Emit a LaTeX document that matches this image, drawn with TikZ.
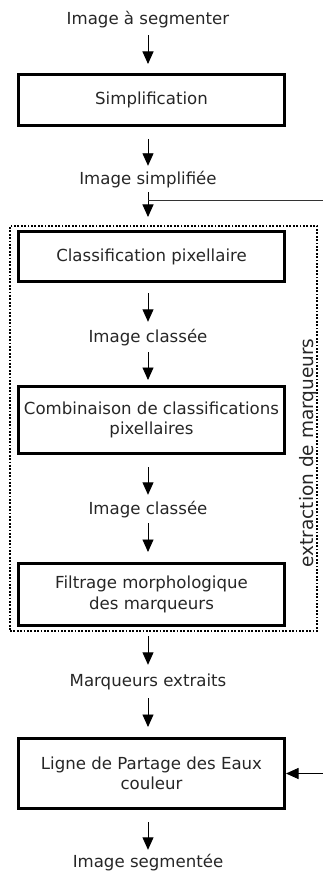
\documentclass[tikz,border=0pt]{standalone}
\usepackage{fontspec}
\setmainfont{DejaVu Sans}
\usetikzlibrary{arrows.meta}
\begin{document}
\begin{tikzpicture}[x=1pt,y=-1pt,
  every node/.style={font=\fontsize{16.6}{20.5}\selectfont, text=black!85},
  lbl/.style={inner sep=0pt, text height=12pt, text depth=3.5pt},
  stepbox/.style={draw, line width=3pt, outer sep=1.5pt, minimum width=266pt, align=center, inner sep=0pt},
  arr/.style={line width=0.9pt, -{Triangle[length=12.5pt,width=11pt]}},
  grpbox/.style={draw, line width=2pt, dash pattern=on 1.8pt off 1.6pt, inner sep=0pt}]
\useasboundingbox (0,0) rectangle (323,877);

\node[lbl] (t1) at (148,20) {Image à segmenter};
\node[stepbox, minimum height=51pt] (simp) at (151.5,100) {Simplification};
\node[lbl] (t2) at (148,180) {Image simplifiée};
\node[grpbox, minimum width=307pt, minimum height=405pt] (grp) at (163.5,428.5) {};
\node[stepbox, minimum height=50pt] (cls) at (151.5,256.5) {Classification pixellaire};
\node[lbl] (t3) at (148,338) {Image classée};
\node[stepbox, minimum height=67pt] (comb) at (151.5,420) {Combinaison de classifications\\pixellaires};
\node[lbl] (t4) at (148,510) {Image classée};
\node[stepbox, minimum height=62pt] (filt) at (151.5,594.5) {Filtrage morphologique\\des marqueurs};
\node[lbl] (t5) at (148,682) {Marqueurs extraits};
\node[stepbox, minimum height=70pt] (lpe) at (151.5,773.5) {Ligne de Partage des Eaux\\couleur};
\node[lbl] (t6) at (148,863) {Image segmentée};
\node[rotate=90, inner sep=0pt, font=\fontsize{18.5}{22}\selectfont] (ext) at (308.5,453) {extraction de marqueurs};

\coordinate (jn) at (148,200);
\coordinate (je) at (323,200);
\coordinate (fe) at (323,773.5);

\draw[arr, shorten <=7.25pt, shorten >=9pt] (t1.south) -- (t1.south |- simp.north);
\draw[arr, shorten <=12pt, shorten >=6.25pt] (t2.north |- simp.south) -- (t2.north);
\draw[arr, shorten <=4.25pt, shorten >=13pt] (t2.south) -- (t2.south |- cls.north);
\draw[line width=0.9pt, black!80] (jn) -- (je);
\draw[arr, shorten <=10pt, shorten >=8.25pt] (t3.north |- cls.south) -- (t3.north);
\draw[arr, shorten <=6.25pt, shorten >=5pt] (t3.south) -- (t3.south |- comb.north);
\draw[arr, shorten <=12pt, shorten >=7.25pt] (t4.north |- comb.south) -- (t4.north);
\draw[arr, shorten <=5.25pt, shorten >=10pt] (t4.south) -- (t4.south |- filt.north);
\draw[arr, shorten <=9pt, shorten >=9.25pt] (t5.north |- filt.south) -- (t5.north);
\draw[arr, shorten <=8.25pt, shorten >=10pt] (t5.south) -- (t5.south |- lpe.north);
\draw[arr, shorten <=12pt, shorten >=5.25pt] (t6.north |- lpe.south) -- (t6.north);
\draw[arr] (fe) -- (lpe.east);
\end{tikzpicture}
\end{document}
